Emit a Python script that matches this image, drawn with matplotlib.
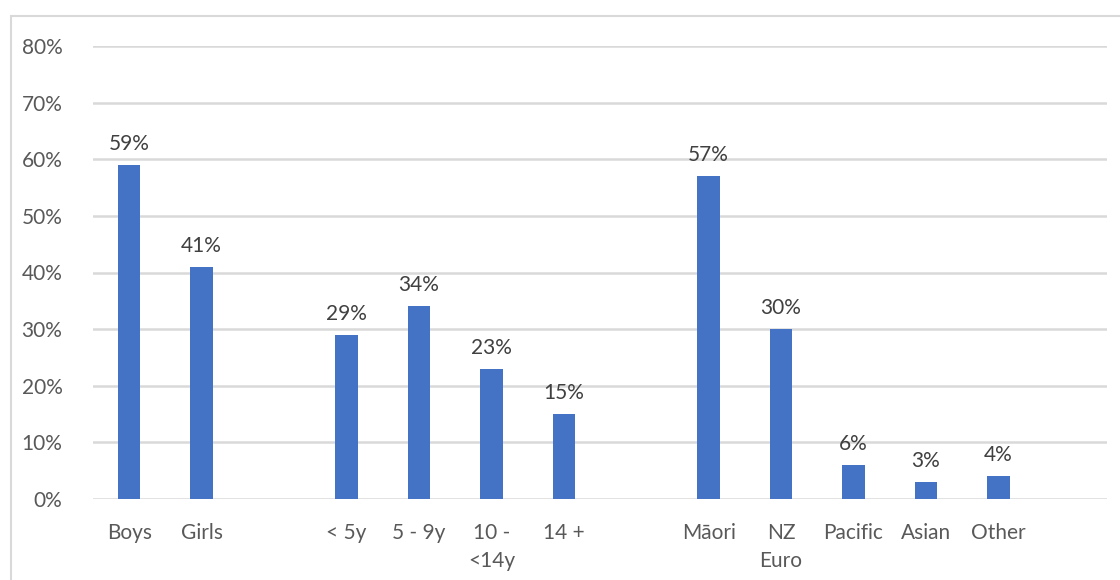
import numpy as np
import matplotlib.pyplot as plt
from matplotlib.patches import Rectangle

# categories (empty string = spacer slot between groups)
labels = ['Boys', 'Girls', '', '< 5y', '5 - 9y', '10 -\n<14y', '14 +', '',
          'Māori', 'NZ\nEuro', 'Pacific', 'Asian', 'Other', '']
values = [59, 41, None, 29, 34, 23, 15, None, 57, 30, 6, 3, 4, None]
yticks = [0, 10, 20, 30, 40, 50, 60, 70, 80]

plt.rcParams['font.family'] = ['Lato', 'DejaVu Sans']

fig = plt.figure(figsize=(11.2, 5.8), dpi=100)
ax = fig.add_axes([93/1120, 1 - 499/580, (1107 - 93)/1120, (499 - 46)/580])

# outer chart border (light grey, only left/top visible in the crop)
fig.patches.append(Rectangle((11/1120, -0.1), 1.2, 1 - 16/580 + 0.1,
                             transform=fig.transFigure, fill=False,
                             edgecolor='#D9D9D9', linewidth=1.5))

x = np.arange(len(labels))
for xi, v in zip(x, values):
    if v is None:
        continue
    ax.bar(xi, v, width=0.31, color='#4472C4', zorder=3)
    ax.annotate(f'{v}%', (xi, v), xytext=(0, 8), textcoords='offset points',
                ha='center', va='bottom', fontsize=15, color='#404040')

ax.set_xlim(-0.5, len(labels) - 0.5)
ax.set_ylim(0, 80)
ax.set_yticks(yticks)
ax.set_yticklabels([f'{t}%' for t in yticks], fontsize=15, color='#595959')
ax.set_xticks(x)
ax.set_xticklabels(labels, fontsize=15, color='#595959', linespacing=1.55)
ax.tick_params(length=0)
ax.tick_params(axis='y', pad=22)
ax.tick_params(axis='x', pad=17)
ax.grid(axis='y', color='#D9D9D9', linewidth=1.8, zorder=0)
for s in ax.spines.values():
    s.set_visible(False)

fig.savefig('out.png', dpi=100)
